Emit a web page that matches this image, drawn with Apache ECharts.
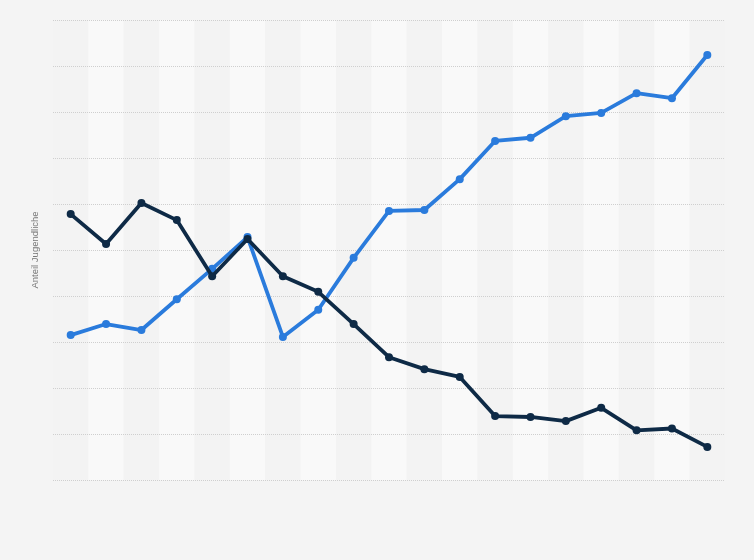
<!DOCTYPE html>
<html>
<head>
<meta charset="utf-8">
<script src="https://cdn.jsdelivr.net/npm/echarts@6/dist/echarts.min.js"></script>
<style>
html,body{margin:0;padding:0;background:#f4f4f4;}
#c{width:754px;height:560px;}
</style>
</head>
<body>
<div id="c"></div>
<script>
var categories = ['1','2','3','4','5','6','7','8','9','10','11','12','13','14','15','16','17','18','19'];
var blueValues = [3.15, 3.39, 3.26, 3.93, 4.59, 5.28, 3.11, 3.70, 4.83, 5.85, 5.87, 6.54, 7.37, 7.44, 7.91, 7.98, 8.41, 8.30, 9.24];
var darkValues = [5.78, 5.13, 6.02, 5.65, 4.43, 5.24, 4.43, 4.09, 3.39, 2.67, 2.41, 2.24, 1.39, 1.37, 1.28, 1.57, 1.08, 1.12, 0.72];
var yAxisName = 'Anteil Jugendliche';

var chart = echarts.init(document.getElementById('c'), null, {renderer: 'canvas'});
chart.setOption({
  backgroundColor: '#f4f4f4',
  animation: false,
  grid: {left: 53, right: 29, top: 20, bottom: 80},
  xAxis: {
    type: 'category',
    data: categories,
    boundaryGap: true,
    z: 0,
    axisLine: {show: false},
    axisTick: {show: false},
    axisLabel: {show: false},
    splitArea: {show: true, areaStyle: {color: ['#f3f3f3', '#f9f9f9']}}
  },
  yAxis: {
    type: 'value',
    min: 0, max: 10, interval: 1,
    z: 1,
    name: yAxisName,
    nameLocation: 'middle',
    nameGap: 13,
    nameTextStyle: {color: '#777', fontSize: 9.5, fontFamily: 'Liberation Sans, Arial, sans-serif'},
    axisLine: {show: false},
    axisTick: {show: false},
    axisLabel: {show: false},
    splitLine: {show: true, lineStyle: {color: '#cfcfcf', type: [1, 1], width: 1}}
  },
  series: [
    {
      type: 'line', data: blueValues, z: 3,
      symbol: 'circle', symbolSize: 8,
      lineStyle: {color: '#2a7bdc', width: 3.8},
      itemStyle: {color: '#2a7bdc'}
    },
    {
      type: 'line', data: darkValues, z: 4,
      symbol: 'circle', symbolSize: 8,
      lineStyle: {color: '#0e2a46', width: 3.8},
      itemStyle: {color: '#0e2a46'}
    }
  ]
});
</script>
</body>
</html>
